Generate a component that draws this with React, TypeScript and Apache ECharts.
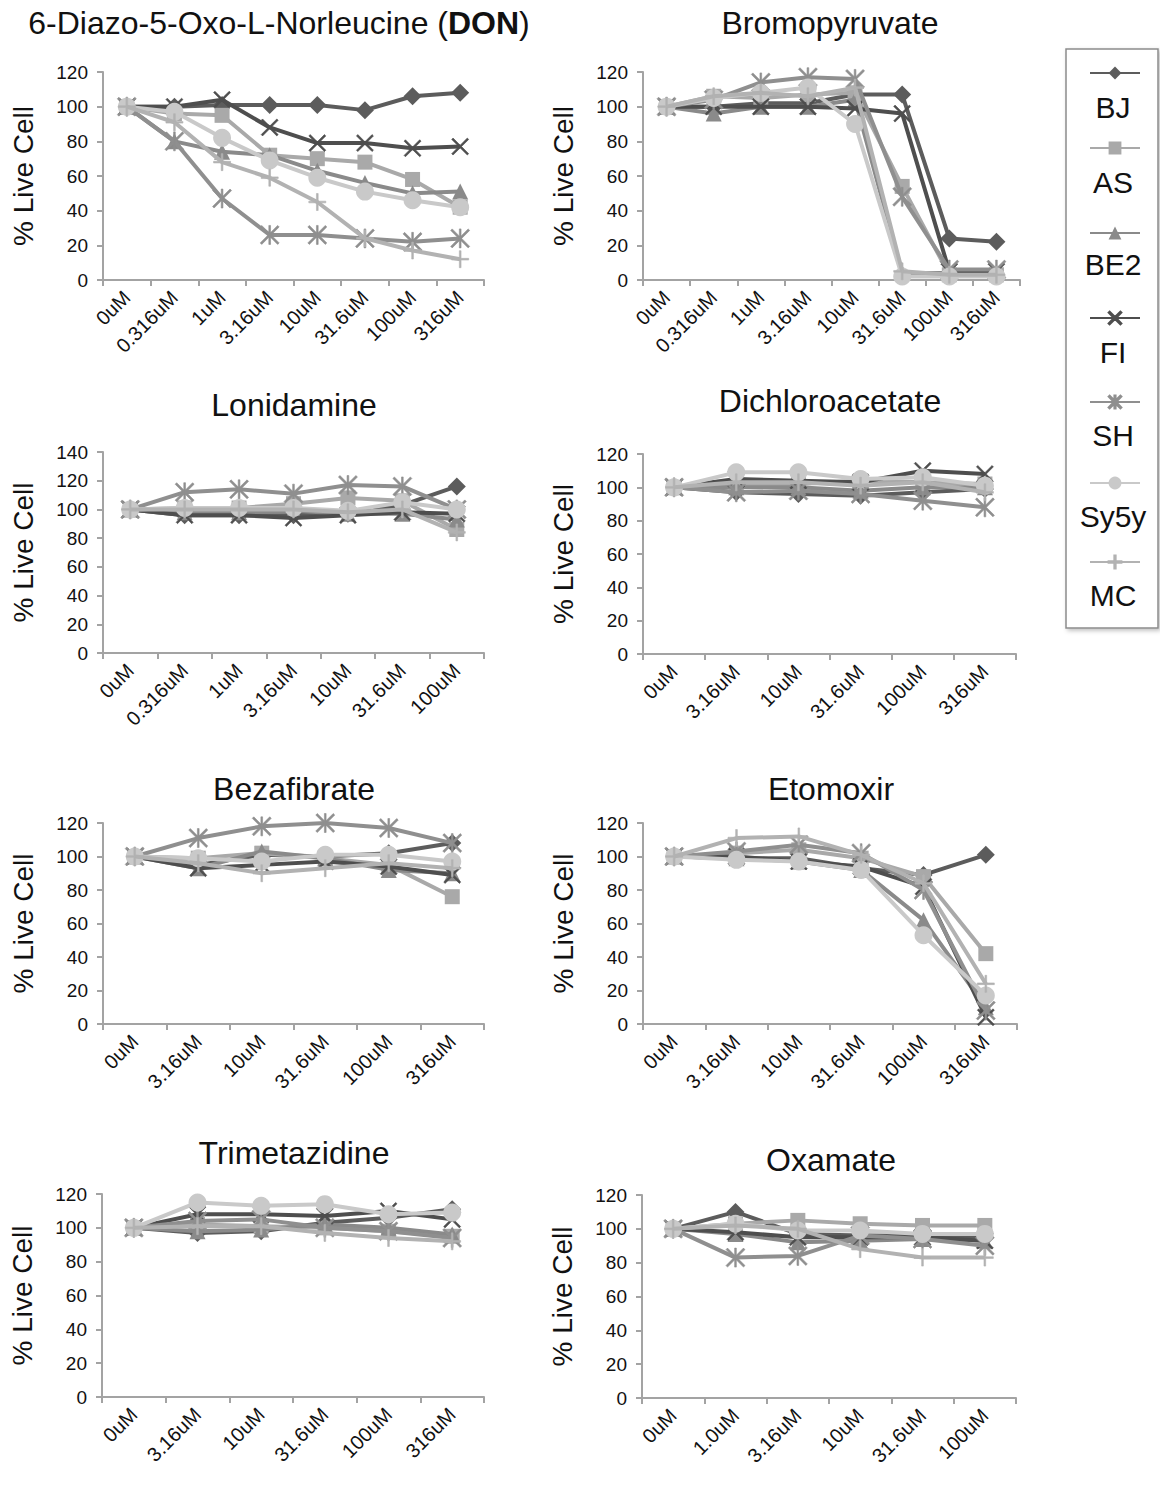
import React, { useEffect, useRef } from 'react';
import * as echarts from 'echarts';

const FONT = '"Liberation Sans", Arial, Helvetica, sans-serif';

// ---------- DATA ----------
const cellLines = ['BJ', 'AS', 'BE2', 'FI', 'SH', 'Sy5y', 'MC'];

const dosesDON = ['0uM', '0.316uM', '1uM', '3.16uM', '10uM', '31.6uM', '100uM', '316uM'];
const dosesBromo = ['0uM', '0.316uM', '1uM', '3.16uM', '10uM', '31.6uM', '100uM', '316uM'];
const dosesLonidamine = ['0uM', '0.316uM', '1uM', '3.16uM', '10uM', '31.6uM', '100uM'];
const dosesDCA = ['0uM', '3.16uM', '10uM', '31.6uM', '100uM', '316uM'];
const dosesBeza = ['0uM', '3.16uM', '10uM', '31.6uM', '100uM', '316uM'];
const dosesEtomoxir = ['0uM', '3.16uM', '10uM', '31.6uM', '100uM', '316uM'];
const dosesTrimet = ['0uM', '3.16uM', '10uM', '31.6uM', '100uM', '316uM'];
const dosesOxamate = ['0uM', '1.0uM', '3.16uM', '10uM', '31.6uM', '100uM'];

// rows follow cellLines order: BJ, AS, BE2, FI, SH, Sy5y, MC
const valuesDON = [
  [100, 100, 101, 101, 101, 98, 106, 108],
  [100, 96, 95, 72, 70, 68, 58, 42],
  [100, 80, 74, 72, 63, 56, 50, 51],
  [100, 100, 104, 88, 79, 79, 76, 77],
  [100, 80, 47, 26, 26, 24, 22, 24],
  [100, 97, 82, 69, 59, 51, 46, 42],
  [100, 91, 68, 59, 45, 24, 17, 12],
];
const valuesBromo = [
  [100, 100, 102, 102, 107, 107, 24, 22],
  [100, 106, 105, 107, 108, 54, 3, 3],
  [100, 96, 100, 100, 104, 4, 4, 4],
  [100, 100, 100, 100, 99, 96, 5, 5],
  [100, 104, 114, 117, 116, 48, 6, 6],
  [100, 105, 108, 111, 90, 2, 2, 2],
  [100, 106, 108, 106, 111, 5, 3, 3],
];
const valuesLonidamine = [
  [100, 96, 96, 96, 97, 103, 116],
  [100, 101, 101, 104, 108, 106, 86],
  [100, 98, 98, 99, 97, 97, 93],
  [100, 96, 96, 94, 96, 98, 97],
  [100, 112, 114, 111, 117, 116, 100],
  [100, 101, 101, 101, 99, 105, 100],
  [100, 100, 100, 100, 98, 100, 84],
];
const valuesDCA = [
  [100, 97, 96, 95, 97, 99],
  [100, 101, 102, 104, 103, 102],
  [100, 100, 100, 98, 100, 100],
  [100, 105, 104, 103, 110, 108],
  [100, 97, 98, 96, 92, 88],
  [100, 109, 109, 105, 106, 101],
  [100, 103, 103, 101, 103, 97],
];
const valuesBeza = [
  [100, 95, 101, 100, 102, 108],
  [100, 99, 102, 99, 95, 76],
  [100, 93, 103, 99, 92, 90],
  [100, 93, 95, 97, 94, 89],
  [100, 111, 118, 120, 117, 108],
  [100, 99, 97, 101, 101, 97],
  [100, 96, 90, 93, 96, 93],
];
const valuesEtomoxir = [
  [100, 99, 99, 93, 89, 101],
  [100, 102, 104, 99, 88, 42],
  [100, 99, 97, 92, 62, 10],
  [100, 100, 97, 94, 82, 4],
  [100, 103, 107, 102, 80, 8],
  [100, 98, 97, 92, 53, 17],
  [100, 111, 112, 101, 84, 24],
];
const valuesTrimet = [
  [100, 97, 98, 103, 106, 111],
  [100, 102, 101, 100, 98, 95],
  [100, 98, 99, 102, 100, 96],
  [100, 108, 108, 107, 110, 105],
  [100, 104, 105, 100, 98, 94],
  [100, 115, 113, 114, 108, 109],
  [100, 101, 101, 97, 94, 92],
];
const valuesOxamate = [
  [100, 110, 97, 96, 96, 95],
  [100, 103, 105, 103, 102, 102],
  [100, 97, 92, 93, 94, 93],
  [100, 98, 95, 95, 95, 93],
  [100, 83, 84, 96, 94, 90],
  [100, 103, 99, 99, 97, 97],
  [100, 102, 100, 88, 83, 83],
];

const titles = [
  '6-Diazo-5-Oxo-L-Norleucine ({b|DON})',
  'Bromopyruvate',
  'Lonidamine',
  'Dichloroacetate',
  'Bezafibrate',
  'Etomoxir',
  'Trimetazidine',
  'Oxamate',
];
const yMax = [120, 120, 140, 120, 120, 120, 120, 120];

// ---------- STYLE / LAYOUT ----------
const X_PATH = 'path://M0,1.6L1.6,0L10,8.4L18.4,0L20,1.6L11.6,10L20,18.4L18.4,20L10,11.6L1.6,20L0,18.4L8.4,10Z';
const STAR_PATH = 'path://M0,1.6L1.6,0L10,8.4L18.4,0L20,1.6L11.6,10L20,18.4L18.4,20L10,11.6L1.6,20L0,18.4L8.4,10Z M9.1,0L10.9,0L10.9,20L9.1,20Z';
const PLUS_PATH = 'path://M9,0L11,0L11,9L20,9L20,11L11,11L11,20L9,20L9,11L0,11L0,9L9,9Z';

const lineColors = ['#5c5c5c', '#a9a9a9', '#8a8a8a', '#4e4e4e', '#8f8f8f', '#c9c9c9', '#b2b2b2'];
const lineSymbols = ['diamond', 'rect', 'triangle', X_PATH, STAR_PATH, 'circle', PLUS_PATH];
const symbolSizes = [18, 15, 16, 17, 19, 18, 17];

const gridRects = [
  { left: 103, top: 72, width: 381, height: 208 },
  { left: 643, top: 72, width: 377, height: 208 },
  { left: 103, top: 452, width: 381, height: 201 },
  { left: 643, top: 454, width: 373, height: 200 },
  { left: 103, top: 823, width: 381, height: 201 },
  { left: 643, top: 823, width: 374, height: 201 },
  { left: 102, top: 1194, width: 382, height: 203 },
  { left: 642, top: 1195, width: 374, height: 203 },
];
const titlePos = [
  [279, 23], [830, 23], [294, 405], [830, 401],
  [294, 789], [831, 789], [294, 1153], [831, 1160],
];
const legendIconY = [73, 148, 233, 318, 402, 483, 562];
const legendTextY = [107, 182, 264, 352, 435, 516, 595];

const AXIS_GREY = '#a3a3a3';

export default function App() {
  const ref = useRef<HTMLDivElement>(null);

  useEffect(() => {
    if (!ref.current) return;
    const chart = echarts.init(ref.current, undefined, { renderer: 'svg' });

    const panelDoses = [dosesDON, dosesBromo, dosesLonidamine, dosesDCA, dosesBeza, dosesEtomoxir, dosesTrimet, dosesOxamate];
    const panelValues = [valuesDON, valuesBromo, valuesLonidamine, valuesDCA, valuesBeza, valuesEtomoxir, valuesTrimet, valuesOxamate];

    const grid = gridRects.map((g) => ({ ...g, containLabel: false }));

    const xAxis = panelDoses.map((doses, i) => ({
      type: 'category',
      gridIndex: i,
      data: doses,
      boundaryGap: true,
      axisLine: { show: true, lineStyle: { color: AXIS_GREY, width: 2 } },
      axisTick: { show: true, length: 6, lineStyle: { color: AXIS_GREY, width: 2 } },
      axisLabel: { rotate: 45, interval: 0, fontSize: 20, color: '#111', margin: 14, fontFamily: FONT },
      splitLine: { show: false },
    }));

    const yAxis = yMax.map((mx, i) => ({
      type: 'value',
      gridIndex: i,
      min: 0,
      max: mx,
      interval: 20,
      name: '% Live Cell',
      nameLocation: 'middle',
      nameGap: 66,
      nameTextStyle: { fontSize: 28, color: '#111', fontFamily: FONT },
      axisLine: { show: true, lineStyle: { color: AXIS_GREY, width: 2 } },
      axisTick: { show: true, length: 6, lineStyle: { color: AXIS_GREY, width: 2 } },
      axisLabel: { fontSize: 19, color: '#111', margin: 15, fontFamily: FONT },
      splitLine: { show: false },
    }));

    const series: any[] = [];
    panelValues.forEach((rows, p) => {
      rows.forEach((vals, s) => {
        const isPath = s === 3 || s === 4 || s === 6;
        series.push({
          type: 'line',
          name: cellLines[s],
          xAxisIndex: p,
          yAxisIndex: p,
          data: vals,
          symbol: lineSymbols[s],
          symbolSize: symbolSizes[s],
          showAllSymbol: true,
          lineStyle: { color: lineColors[s], width: 4 },
          itemStyle: {
            color: lineColors[s],
            borderColor: lineColors[s],
            borderWidth: isPath ? 0.6 : 0,
          },
          emphasis: { disabled: true },
          z: 2 + s,
        });
      });
    });

    const legend = cellLines.map((name, i) => ({
      data: [name],
      left: 1089,
      top: legendIconY[i] - 8,
      itemWidth: 50,
      itemHeight: 16,
      padding: 0,
      itemGap: 0,
      selectedMode: false,
      formatter: () => '',
      textStyle: { fontSize: 1 },
    }));

    const graphic: any[] = [
      {
        type: 'rect',
        shape: { x: 1066, y: 49, width: 92, height: 579 },
        style: {
          fill: '#fff',
          stroke: '#8c8c8c',
          lineWidth: 1.5,
          shadowBlur: 4,
          shadowColor: 'rgba(0,0,0,0.25)',
          shadowOffsetX: 2,
          shadowOffsetY: 2,
        },
        z: -10,
        silent: true,
      },
    ];
    titles.forEach((t, i) => {
      graphic.push({
        type: 'text',
        x: titlePos[i][0],
        y: titlePos[i][1],
        style: {
          text: t,
          align: 'center',
          verticalAlign: 'middle',
          fontSize: 32,
          fontFamily: FONT,
          fill: '#111',
          rich: { b: { fontSize: 32, fontWeight: 'bold', fontFamily: FONT, fill: '#111' } },
        },
        silent: true,
      });
    });
    cellLines.forEach((name, i) => {
      graphic.push({
        type: 'text',
        x: 1113,
        y: legendTextY[i],
        style: {
          text: name,
          align: 'center',
          verticalAlign: 'middle',
          fontSize: 30,
          fontFamily: FONT,
          fill: '#111',
        },
        silent: true,
      });
    });

    chart.setOption({
      animation: false,
      backgroundColor: '#ffffff',
      textStyle: { fontFamily: FONT },
      grid,
      xAxis,
      yAxis,
      legend,
      series,
      graphic,
    });

    return () => chart.dispose();
  }, []);

  return (
    <div
      ref={ref}
      style={{ position: 'absolute', left: 0, top: 0, width: 1160, height: 1488, background: '#fff' }}
    />
  );
}
